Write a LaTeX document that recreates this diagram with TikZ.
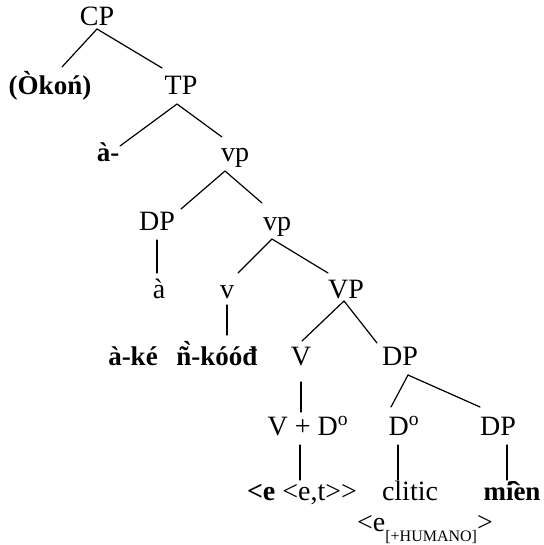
\documentclass[tikz,border=0pt]{standalone}
\usepackage{fontspec}
\usepackage{graphicx}
\setmainfont{Liberation Serif}
\usetikzlibrary{calc}
\tikzset{
  lab/.style={anchor=base, inner sep=0pt, font=\fontsize{28}{32}\selectfont},
  blab/.style={anchor=base, inner sep=0pt, font=\fontsize{27}{32}\selectfont\bfseries},
  edge/.style={line width=1.2pt, line cap=round}
}
\begin{document}
\begin{tikzpicture}[x=1pt, y=-1pt]
\useasboundingbox (0,0) rectangle (543,545);
% nodes (placed by baseline)
\node[lab]  (CP)    at (97,26)  {CP};
\node[blab] (Okon)  at (50,95)  {(Òkoń)};
\node[lab]  (TP)    at (181,95) {TP};
\node[blab] (a1)    at (108,162) {à-};
\node[lab]  (vp1)   at (235,162) {vp};
\node[lab]  (DP1)   at (157,230) {DP};
\node[lab]  (vp2)   at (277,230) {vp};
\node[lab]  (a2)    at (159,298) {à};
\node[lab]  (v)     at (227,298) {v};
\node[lab]  (VP)    at (346,298) {VP};
\node[blab] (ake)   at (133,365) {à-ké};
\node[blab] (nkood) at (217,365) {ñ̀-kóóđ};
\node[lab]  (V)     at (301,365) {V};
\node[lab]  (DP2)   at (400,365) {DP};
\node[lab]  (VD)    at (308,435) {V + D\textsuperscript{o}};
\node[lab]  (D0)    at (404,435) {D\textsuperscript{o}};
\node[lab]  (DP3)   at (498,435) {DP};
\node[lab]  (ee)    at (302,500) {\textbf{<e} <e,t>{}>};
\node[lab]  (clitic) at (410,500) {clitic};
\node[blab] (mien)  at (512,500) {mi\makebox[0pt]{\raisebox{-0.02em}{\scalebox{1.5}[1]{\char"02C6}}}en};
\node[lab]  (eh)    at (425,531) {<e\raisebox{-0.36em}{\fontsize{16}{18}\selectfont[+HUMANO]}>};
% connectors
\draw[edge] ($(CP.base)+(0,3)$)   -- ($(Okon.base)+(12,-28)$);
\draw[edge] ($(CP.base)+(0,3)$)   -- ($(TP.base)+(-19,-27)$);
\draw[edge] ($(TP.base)+(-4,9)$)  -- ($(a1.base)+(12,-16)$);
\draw[edge] ($(TP.base)+(-4,9)$)  -- ($(vp1.base)+(-13,-25)$);
\draw[edge] ($(vp1.base)+(-10,9)$) -- ($(DP1.base)+(24,-21)$);
\draw[edge] ($(vp1.base)+(-10,9)$) -- ($(vp2.base)+(-15,-27)$);
\draw[edge] ($(DP1.base)+(0,10)$) -- ($(a2.base)+(-2,-25)$);
\draw[edge] ($(vp2.base)+(-5,9)$) -- ($(v.base)+(11,-25)$);
\draw[edge] ($(vp2.base)+(-5,9)$) -- ($(VP.base)+(-18,-25)$);
\draw[edge] ($(v.base)+(0,7)$)    -- ($(nkood.base)+(10,-30)$);
\draw[edge] ($(VP.base)+(-2,3)$)  -- ($(V.base)+(1,-24)$);
\draw[edge] ($(VP.base)+(-2,3)$)  -- ($(DP2.base)+(-23,-22)$);
\draw[edge] ($(V.base)+(0,17)$)   -- ($(VD.base)+(-7,-23)$);
\draw[edge] ($(DP2.base)+(8,10)$) -- ($(D0.base)+(-13,-28)$);
\draw[edge] ($(DP2.base)+(8,10)$) -- ($(DP3.base)+(-18,-28)$);
\draw[edge] ($(VD.base)+(-8,10)$) -- ($(ee.base)+(-2,-20)$);
\draw[edge] ($(D0.base)+(-6,10)$) -- ($(clitic.base)+(-12,-20)$);
\draw[edge] ($(DP3.base)+(9,10)$) -- ($(mien.base)+(-5,-20)$);
\end{tikzpicture}
\end{document}
